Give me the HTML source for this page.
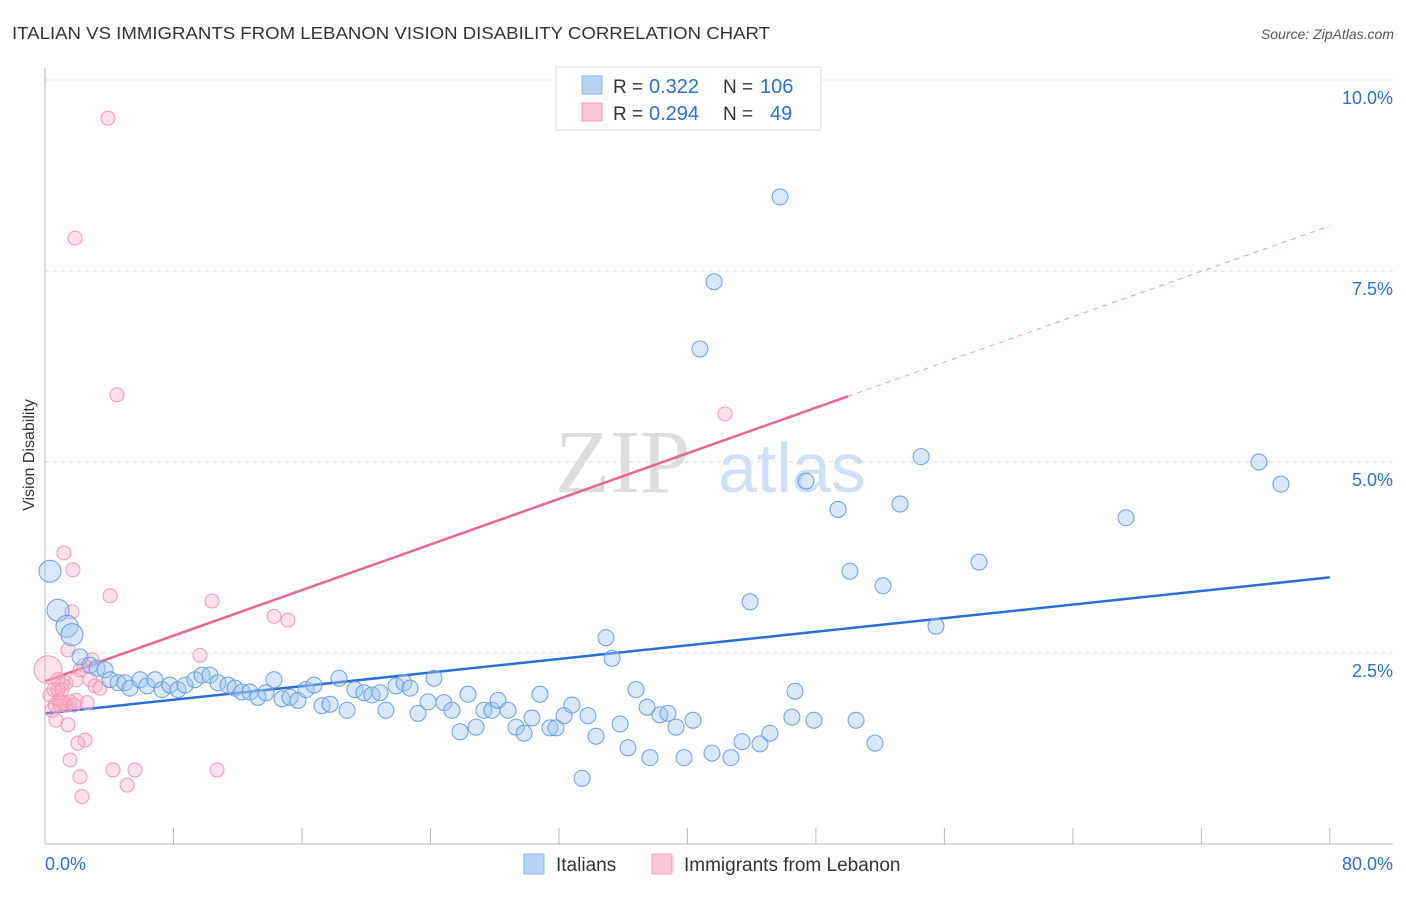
<!DOCTYPE html>
<html><head><meta charset="utf-8"><style>
body{margin:0;background:#fff;font-family:"Liberation Sans",sans-serif;}
</style></head><body>
<svg id="chart" width="1406" height="892" xmlns="http://www.w3.org/2000/svg" style="font-family:'Liberation Sans',sans-serif">
<text x="12" y="39" font-size="17.5" fill="#333" textLength="758" lengthAdjust="spacingAndGlyphs">ITALIAN VS IMMIGRANTS FROM LEBANON VISION DISABILITY CORRELATION CHART</text>
<text x="1394" y="39" font-size="14" fill="#555" font-style="italic" text-anchor="end">Source: ZipAtlas.com</text>
<text x="34" y="455" font-size="16" fill="#333" text-anchor="middle" transform="rotate(-90 34 455)">Vision Disability</text>
<text x="555" y="492" font-size="90" fill="#ddd" font-family="Liberation Serif">ZIP</text>
<text x="718" y="492" font-size="70" fill="#cfe0f5">atlas</text>
<g id="grid"></g><g id="axes"></g><g id="lines"></g><g id="pts"></g>
<g>
<rect x="556" y="67" width="265" height="63" fill="#fff" stroke="#ddd"/>
<rect x="582" y="76" width="20" height="18" fill="#b9d3f5" stroke="#8ab4ec"/>
<rect x="582" y="103" width="20" height="18" fill="#fac6d5" stroke="#f09ab5"/>
<text x="613" y="93" font-size="19" fill="#333">R =</text>
<text x="649" y="93" font-size="20" fill="#2f6fd0">0.322</text>
<text x="723" y="93" font-size="19" fill="#333">N =</text>
<text x="760" y="93" font-size="20" fill="#2f6fd0">106</text>
<text x="613" y="120" font-size="19" fill="#333">R =</text>
<text x="649" y="120" font-size="20" fill="#2f6fd0">0.294</text>
<text x="723" y="120" font-size="19" fill="#333">N =</text>
<text x="770" y="120" font-size="20" fill="#2f6fd0">49</text>
</g>
<g>
<rect x="524" y="854" width="20" height="20" fill="#b9d3f5" stroke="#8ab4ec"/>
<text x="556" y="871" font-size="19" fill="#333">Italians</text>
<rect x="652" y="854" width="20" height="20" fill="#fac6d5" stroke="#f09ab5"/>
<text x="684" y="871" font-size="19" fill="#333">Immigrants from Lebanon</text>
</g>
</svg>
<script>
const yTicks=[2.5,5,7.5,10];
const yTickLabels=["2.5%","5.0%","7.5%","10.0%"];
const xTicks=[0,8,16,24,32,40,48,56,64,72,80];
const blueX=[0.31,0.81,1.37,1.68,2.18,2.80,3.24,3.74,4.05,4.55,4.98,5.29,5.92,6.35,6.85,7.29,7.78,8.28,8.72,9.34,9.78,10.27,10.77,11.39,11.83,12.27,12.76,13.26,13.76,14.26,14.76,15.26,15.75,16.25,16.75,17.25,17.75,18.31,18.81,19.30,19.86,20.36,20.86,21.23,21.86,22.35,22.73,23.23,23.85,24.22,24.84,25.34,25.84,26.34,26.84,27.33,27.83,28.21,28.83,29.33,29.83,30.32,30.82,31.44,31.82,32.32,32.81,33.44,33.81,34.31,34.93,35.31,35.81,36.30,36.80,37.49,37.67,38.29,38.79,39.29,39.79,40.35,40.78,41.53,41.66,42.71,43.40,43.90,44.52,45.14,45.77,46.51,46.70,47.38,47.88,49.38,50.12,50.50,51.68,52.18,53.24,54.55,55.48,58.16,67.31,75.59,76.96];
const blueY=[3.57,3.06,2.85,2.74,2.45,2.34,2.30,2.28,2.15,2.11,2.11,2.04,2.15,2.07,2.15,2.02,2.08,2.02,2.08,2.15,2.21,2.21,2.11,2.08,2.04,1.99,1.99,1.92,1.98,2.15,1.90,1.92,1.88,2.02,2.08,1.81,1.83,2.17,1.75,2.02,1.98,1.95,1.98,1.75,2.07,2.11,2.04,1.71,1.86,2.17,1.85,1.75,1.47,1.96,1.53,1.75,1.75,1.88,1.75,1.53,1.45,1.65,1.96,1.52,1.52,1.68,1.82,0.86,1.68,1.41,2.70,2.43,1.57,1.26,2.02,1.79,1.13,1.69,1.71,1.53,1.13,1.62,6.48,1.19,7.36,1.13,1.34,3.17,1.31,1.45,8.47,1.66,2.00,4.75,1.62,4.38,3.57,1.62,1.32,3.38,4.45,5.07,2.85,3.69,4.27,5.00,4.71];
const pinkX=[0.19,0.31,0.44,0.62,0.81,0.93,1.06,1.18,1.31,1.43,1.56,1.68,1.74,1.87,1.93,2.05,2.18,2.30,2.49,2.62,2.80,2.93,3.11,3.42,3.92,4.05,4.23,4.48,5.11,5.60,9.65,10.40,10.71,14.26,15.13,42.34,0.56,0.68,0.81,0.93,1.06,1.18,1.31,1.43,1.56,1.81,1.93,2.18,2.43];
const pinkY=[2.28,1.95,1.75,1.82,2.02,1.88,2.08,3.81,1.82,1.56,1.10,3.04,3.59,7.93,1.88,1.32,0.88,0.62,1.36,1.85,2.15,2.41,2.07,2.04,9.50,3.25,0.97,5.88,0.77,0.97,2.47,3.18,0.97,2.98,2.93,5.63,2.02,1.62,2.15,1.82,2.02,1.85,2.11,2.54,1.86,1.82,2.15,2.28,2.34];
const blueTrend=[[0,1.71],[80,3.49]];
const pinkTrend=[[0,2.13],[50,5.86]];
const pinkDash=[[50,5.86],[80,8.09]];
const NS="http://www.w3.org/2000/svg";
const xs=v=>45+v*16.06, ys=v=>844-v*76.4;
function mk(t,a,p){const e=document.createElementNS(NS,t);for(const k in a)e.setAttribute(k,a[k]);p.appendChild(e);return e;}
const grid=document.getElementById('grid'),axes=document.getElementById('axes'),lines=document.getElementById('lines'),pts=document.getElementById('pts');
yTicks.forEach((v,i)=>{
 const l=mk('line',{x1:45,x2:1393,y1:ys(v),y2:ys(v),stroke:'#ddd','stroke-dasharray':'4,4'},grid);
 
 
 const t=mk('text',{x:1393,y:ys(v)+24,'font-size':18,fill:'#2f6fd0','text-anchor':'end'},axes);t.textContent=yTickLabels[i];
 
 
});
const ax=mk('line',{x1:45,x2:1393,y1:844,y2:844,stroke:'#bbb'},axes);


const ay=mk('line',{x1:45,x2:45,y1:68,y2:844,stroke:'#bbb'},axes);


xTicks.forEach(v=>{const t=mk('line',{x1:xs(v),x2:xs(v),y1:828,y2:844,stroke:'#bbb'},axes);
 
 });
const x0=mk('text',{x:45,y:870,'font-size':18,fill:'#2f6fd0'},axes);x0.textContent='0.0%';


const x1=mk('text',{x:1393,y:870,'font-size':18,fill:'#2f6fd0','text-anchor':'end'},axes);x1.textContent='80.0%';


function pt(x,y,r,fill,stroke,name){const c=mk('circle',{cx:xs(x),cy:ys(y),r:r,fill:fill,stroke:stroke,'stroke-width':1},pts);
 
 }
pinkX.forEach((x,i)=>pt(x,pinkY[i],i==0?14:7,'rgba(248,170,195,0.35)','#f29ab6','point-lebanon'));
blueX.forEach((x,i)=>pt(x,blueY[i],i<4?11:8,'rgba(160,195,240,0.4)','#6d9fe0','point-italians'));
function ln(d,c,w,dash,name){const l=mk('line',{x1:xs(d[0][0]),y1:ys(d[0][1]),x2:xs(d[1][0]),y2:ys(d[1][1]),stroke:c,'stroke-width':w},lines);
 if(dash)l.setAttribute('stroke-dasharray',dash);
 
 }
ln(blueTrend,'#2a6fd6',2.5,null,'trend-italians');
ln(pinkTrend,'#e8668f',2.5,null,'trend-lebanon');
ln(pinkDash,'#eba0b8',1,'5,5','trend-lebanon-extension');
</script>
</body></html>
